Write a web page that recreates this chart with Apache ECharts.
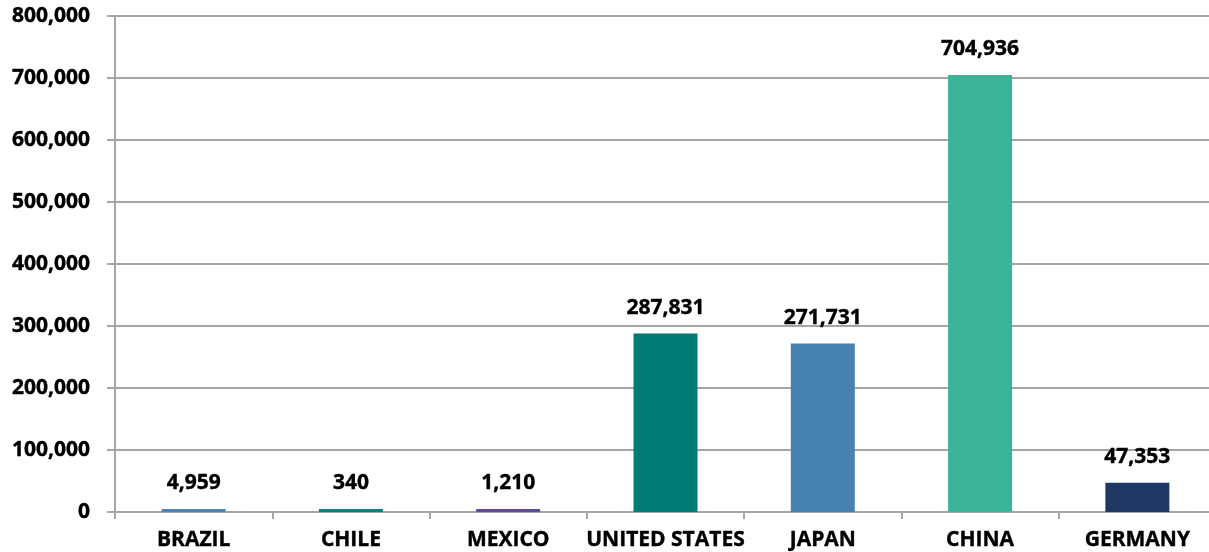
<!DOCTYPE html>
<html>
<head>
<meta charset="utf-8">
<script src="https://cdn.jsdelivr.net/npm/echarts@6/dist/echarts.min.js"></script>
<style>
  html, body { margin: 0; padding: 0; background: #ffffff; }
  #chart { width: 1209px; height: 552px; }
</style>
</head>
<body>
<div id="chart"></div>
<script>
// Countries and their values
const countries = ['BRAZIL', 'CHILE', 'MEXICO', 'UNITED STATES', 'JAPAN', 'CHINA', 'GERMANY'];
const values = [4959, 340, 1210, 287831, 271731, 704936, 47353];
const barColors = ['#4A86BE', '#12807A', '#5E4A9C', '#007A72', '#4682B2', '#3BB398', '#1E3763'];

// Value axis range
const yMin = 0;
const yMax = 800000;
const yStep = 100000;

const fontFamily = '"Open Sans", "DejaVu Sans", sans-serif';
const gridGrey = '#A6A6A6';

const chart = echarts.init(document.getElementById('chart'), null, { renderer: 'canvas' });

const fmt = v => v.toLocaleString('en-US');

chart.setOption({
  animation: false,
  backgroundColor: '#ffffff',
  grid: { left: 115, width: 1101, top: 16, bottom: 40, containLabel: false, outerBoundsMode: 'none' },
  xAxis: {
    type: 'category',
    data: countries,
    boundaryGap: true,
    axisLine: { show: true, lineStyle: { color: gridGrey, width: 2 } },
    axisTick: { show: true, length: 7, lineStyle: { color: gridGrey, width: 2 } },
    axisLabel: {
      margin: 18,
      color: '#000000',
      fontFamily: fontFamily,
      fontWeight: 'bold',
      fontSize: 21,
      interval: 0,
      textBorderColor: '#000000',
      textBorderWidth: 0.4
    }
  },
  yAxis: {
    type: 'value',
    min: yMin,
    max: yMax,
    interval: yStep,
    axisLine: { show: true, lineStyle: { color: gridGrey, width: 2 } },
    axisTick: { show: true, length: 8, lineStyle: { color: gridGrey, width: 2 } },
    splitLine: { show: true, lineStyle: { color: gridGrey, width: 2 } },
    axisLabel: {
      margin: 25,
      color: '#000000',
      fontFamily: fontFamily,
      fontWeight: 'bold',
      fontSize: 21,
      textBorderColor: '#000000',
      textBorderWidth: 0.4,
      formatter: v => fmt(v)
    }
  },
  series: [{
    type: 'bar',
    barWidth: 64,
    barMinHeight: 3,
    data: values.map((v, i) => ({ value: v, itemStyle: { color: barColors[i] } })),
    label: {
      show: true,
      position: 'top',
      distance: 15,
      color: '#000000',
      fontFamily: fontFamily,
      fontWeight: 'bold',
      fontSize: 21,
      textBorderColor: '#000000',
      textBorderWidth: 0.4,
      formatter: p => fmt(p.value)
    }
  }]
});
</script>
</body>
</html>
